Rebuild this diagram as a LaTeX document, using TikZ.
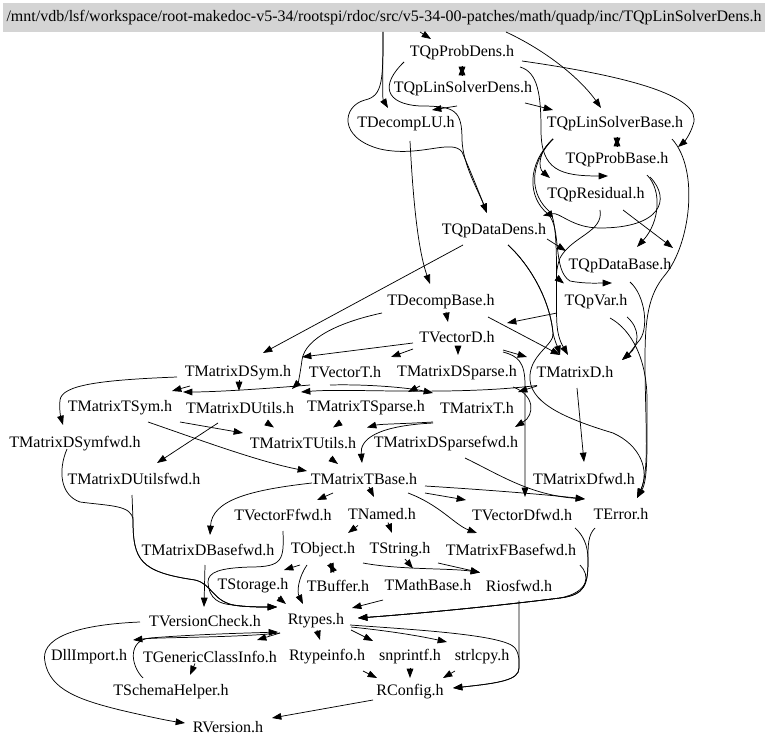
\documentclass[tikz,border=0pt]{standalone}
\usepackage{fontspec}
\setmainfont{Liberation Serif}
\usetikzlibrary{arrows.meta,calc}

\begin{document}
\begin{tikzpicture}[x=0.75pt,y=-0.75pt,
    file/.style={inner sep=0pt,minimum height=25.5pt,font=\fontsize{12}{14}\selectfont},
    hdr/.style={file,fill=black!17,minimum width=571.5pt,minimum height=21.75pt},
    dep/.style={-{Triangle[length=7pt,width=5pt]},line width=0.55pt}]
    \useasboundingbox (0,0) rectangle (768,745);

    % Kopfzeile
    \node[hdr] (title) at (384,17.5) {/mnt/vdb/lsf/workspace/root-makedoc-v5-34/rootspi/rdoc/src/v5-34-00-patches/math/quadp/inc/TQpLinSolverDens.h};

    % Dateien (Zeile fuer Zeile)
    \node[file] (qpprobdens) at (462,53) {TQpProbDens.h};
    \node[file] (qplinsolverdens) at (463,88.5) {TQpLinSolverDens.h};
    \node[file] (decomplu) at (406,124) {TDecompLU.h};
    \node[file] (qplinsolverbase) at (615,124) {TQpLinSolverBase.h};
    \node[file] (qpprobbase) at (617,159.5) {TQpProbBase.h};
    \node[file] (qpresidual) at (596,195) {TQpResidual.h};
    \node[file] (qpdatadens) at (494,230.5) {TQpDataDens.h};
    \node[file] (qpdatabase) at (620,266) {TQpDataBase.h};
    \node[file] (decompbase) at (441,301.5) {TDecompBase.h};
    \node[file] (qpvar) at (596,301.5) {TQpVar.h};
    \node[file] (vectord) at (457,337) {TVectorD.h};
    \node[file] (matrixdsym) at (238,372.5) {TMatrixDSym.h};
    \node[file] (vectort) at (345,372.5) {TVectorT.h};
    \node[file] (matrixdsparse) at (457,372.5) {TMatrixDSparse.h};
    \node[file] (matrixd) at (575,372.5) {TMatrixD.h};
    \node[file] (matrixtsym) at (120,408) {TMatrixTSym.h};
    \node[file] (matrixdutils) at (240,408) {TMatrixDUtils.h};
    \node[file] (matrixtsparse) at (366,408) {TMatrixTSparse.h};
    \node[file] (matrixt) at (477,408) {TMatrixT.h};
    \node[file] (matrixdsymfwd) at (75,443.5) {TMatrixDSymfwd.h};
    \node[file] (matrixtutils) at (303,443.5) {TMatrixTUtils.h};
    \node[file] (matrixdsparsefwd) at (446,443.5) {TMatrixDSparsefwd.h};
    \node[file] (matrixdutilsfwd) at (134,479) {TMatrixDUtilsfwd.h};
    \node[file] (matrixtbase) at (364,479) {TMatrixTBase.h};
    \node[file] (matrixdfwd) at (584,479) {TMatrixDfwd.h};
    \node[file] (vectorffwd) at (283,514.5) {TVectorFfwd.h};
    \node[file] (named) at (382,514.5) {TNamed.h};
    \node[file] (vectordfwd) at (522,514.5) {TVectorDfwd.h};
    \node[file] (error) at (621,514.5) {TError.h};
    \node[file] (matrixdbasefwd) at (208,550) {TMatrixDBasefwd.h};
    \node[file] (object) at (323,550) {TObject.h};
    \node[file] (string) at (400,550) {TString.h};
    \node[file] (matrixfbasefwd) at (511,550) {TMatrixFBasefwd.h};
    \node[file] (storage) at (253,585.5) {TStorage.h};
    \node[file] (buffer) at (338,585.5) {TBuffer.h};
    \node[file] (mathbase) at (428,585.5) {TMathBase.h};
    \node[file] (riosfwd) at (519,585.5) {Riosfwd.h};
    \node[file] (versioncheck) at (205,621) {TVersionCheck.h};
    \node[file] (rtypes) at (316,621) {Rtypes.h};
    \node[file] (dllimport) at (89,656.5) {DllImport.h};
    \node[file] (genericclassinfo) at (210,656.5) {TGenericClassInfo.h};
    \node[file] (rtypeinfo) at (327,656.5) {Rtypeinfo.h};
    \node[file] (snprintf) at (410,656.5) {snprintf.h};
    \node[file] (strlcpy) at (482,656.5) {strlcpy.h};
    \node[file] (schemahelper) at (171,692) {TSchemaHelper.h};
    \node[file] (rconfig) at (410,692) {RConfig.h};
    \node[file] (rversion) at (228,727.5) {RVersion.h};

    % Kanten oben (TQp...)
    \draw[dep] ($(title)+(36,14.5)$) -- ($(qpprobdens)+(-31,-14)$);
    \draw[dep] ($(title)+(-1,14.5)$) .. controls (383,70) and (382,98) .. ($(decomplu)+(-18,-16)$);
    \draw[dep] ($(title)+(122,14.5)$) .. controls (555,55) and (585,85) .. ($(qplinsolverbase)+(-14,-16)$);
    \draw[dep] ($(title)+(-1,14.5)$) .. controls (383,80) and (383,96) .. (365,100)
        .. controls (342,106) and (338,138) .. (380,149) .. controls (420,158) and (452,138) .. (462,152)
        .. controls (470,170) and (480,195) .. ($(qpdatadens)+(-7,-17.5)$);
    \draw[dep] ($(qpprobdens)+(0,13)$) -- ($(qplinsolverdens)+(-1,-12.5)$);
    \draw[dep] ($(qplinsolverdens)+(-1,-12.5)$) -- ($(qpprobdens)+(0,13)$);
    \draw[dep] ($(qplinsolverdens)+(-6,17.5)$) -- ($(decomplu)+(26,-14)$);
    \draw[dep] ($(qplinsolverdens)+(62,14.5)$) -- ($(qplinsolverbase)+(-62,-14)$);
    \draw[dep] ($(qpprobdens)+(-58,9)$) .. controls (380,85) and (385,104) .. (420,106)
        .. controls (455,106) and (462,110) .. (462,140) .. controls (463,165) and (478,190) .. ($(qpdatadens)+(-7,-17.5)$);
    \draw[dep] ($(qpprobdens)+(60,8)$) .. controls (620,75) and (705,95) .. (693,125)
        .. controls (690,135) and (684,142) .. ($(qpprobbase)+(61,-12.5)$);
    \draw[dep] ($(qpprobdens)+(58,14)$) .. controls (538,72) and (541,95) .. (541,130)
        .. controls (541,170) and (560,176) .. ($(qpresidual)+(12,-19)$);
    \draw[dep] ($(qplinsolverbase)+(2,13)$) -- ($(qpprobbase)+(0,-12.5)$);
    \draw[dep] ($(qpprobbase)+(0,-12.5)$) -- ($(qplinsolverbase)+(2,13)$);
    \draw[dep] ($(qplinsolverbase)+(-62,15)$) .. controls (538,152) and (538,168) .. ($(qpresidual)+(-46,-17)$);
    \draw[dep] ($(qplinsolverbase)+(-62,15)$) .. controls (528,165) and (530,195) .. (550,212)
        .. controls (560,225) and (555,300) .. (557,325) .. controls (558,340) and (564,348) .. ($(matrixd)+(-7,-17.5)$);
    \draw[dep] ($(qplinsolverbase)+(-62,15)$) .. controls (526,165) and (528,198) .. (548,214)
        .. controls (562,228) and (552,270) .. (570,281) .. controls (585,284) and (600,283) .. ($(qpvar)+(16,-18.5)$);
    \draw[dep] ($(qplinsolverbase)+(57,15)$) .. controls (700,170) and (690,245) .. (665,275)
        .. controls (648,295) and (645,320) .. (645,360) .. controls (645,420) and (650,470) .. ($(error)+(16,-16.5)$);
    \draw[dep] ($(qpprobbase)+(30,15.5)$) .. controls (662,190) and (660,222) .. ($(qpdatabase)+(17,-19)$);
    \draw[dep] ($(qpprobbase)+(33,17.5)$) .. controls (672,200) and (660,228) .. (600,228)
        .. controls (572,228) and (560,212) .. ($(qpdatadens)+(49,-15)$);
    \draw[dep] ($(qpresidual)+(27,15)$) -- ($(qpdatabase)+(53,-18)$);
    \draw[dep] ($(qpresidual)+(4,15)$) .. controls (604,232) and (572,236) .. (560,258)
        .. controls (555,272) and (557,278) .. ($(qpvar)+(-32,-18)$);
    \draw[dep] ($(qpdatadens)+(53,8.5)$) -- ($(qpdatabase)+(-54,-15)$);
    \draw[dep] ($(qpdatadens)+(14,14.5)$) .. controls (530,265) and (550,300) .. (553,333)
        .. controls (555,342) and (558,348) .. ($(matrixd)+(-15,-17.5)$);
    \draw[dep] ($(qpdatadens)+(14,14.5)$) .. controls (530,265) and (550,300) .. (553,333)
        .. controls (555,345) and (528,355) .. (530,380) .. controls (532,405) and (570,420) .. (613,433)
        .. controls (640,445) and (650,470) .. ($(error)+(16,-16.5)$);
    \draw[dep] ($(qpdatadens)+(-31,14.5)$) -- ($(matrixdsym)+(25,-19.5)$);
    \draw[dep] ($(qpdatabase)+(10,16)$) .. controls (645,295) and (650,330) .. (638,342)
        .. controls (632,350) and (628,355) .. ($(matrixd)+(47,-12.5)$);
    \draw[dep] ($(qpvar)+(31,15.5)$) .. controls (640,328) and (640,345) .. ($(matrixd)+(47,-12.5)$);
    \draw[dep] ($(qpvar)+(-39,11.5)$) -- ($(vectord)+(50,-14)$);
    \draw[dep] ($(qpvar)+(14,16.5)$) .. controls (632,330) and (647,360) .. (647,400)
        .. controls (647,450) and (648,480) .. ($(error)+(16,-16.5)$);

    % Kanten Mitte (TDecomp, TVectorD, TMatrixD)
    \draw[dep] ($(decomplu)+(4,17)$) .. controls (413,200) and (418,250) .. ($(decompbase)+(-11,-17.5)$);
    \draw[dep] ($(decompbase)+(47,15.5)$) -- ($(matrixd)+(-15,-17.5)$);
    \draw[dep] ($(decompbase)+(5,10.5)$) -- ($(vectord)+(-9,-15)$);
    \draw[dep] ($(decompbase)+(-59,11.5)$) .. controls (340,322) and (305,338) .. (302,360)
        .. controls (300,375) and (298,383) .. ($(matrixdutils)+(52,-19)$);
    \draw[dep] ($(vectord)+(-44,6)$) -- ($(matrixdsym)+(64,-15.5)$);
    \draw[dep] ($(vectord)+(-44,12)$) -- ($(vectort)+(46,-15.5)$);
    \draw[dep] ($(vectord)+(1,10)$) -- ($(matrixdsparse)+(1,-17.5)$);
    \draw[dep] ($(vectord)+(46,13)$) -- ($(matrixd)+(-48,-15.5)$);
    \draw[dep] ($(vectord)+(46,15)$) .. controls (518,356) and (525,362) .. (525,385) -- ($(vectordfwd)+(3,-17.5)$);
    \draw[dep] ($(matrixd)+(2,15.5)$) -- ($(matrixdfwd)+(0,-17)$);
    \draw[dep] ($(matrixd)+(-38,13.5)$) -- ($(matrixt)+(41,-16)$);
    \draw[dep] ($(matrixd)+(-38,13)$) .. controls (450,396) and (350,388) .. ($(matrixdutils)+(61,-16)$);
    \draw[dep] ($(matrixdsparse)+(-37,13.5)$) -- ($(matrixtsparse)+(42,-16)$);
    \draw[dep] ($(matrixdsparse)+(56,14.5)$) .. controls (535,395) and (535,415) .. ($(matrixdsparsefwd)+(69,-16.5)$);
    \draw[dep] ($(vectort)+(-15,12.5)$) .. controls (370,384) and (410,388) .. ($(matrixt)+(-44,-15)$);
    \draw[dep] ($(vectort)+(-35,12.5)$) .. controls (250,390) and (210,392) .. ($(matrixtsym)+(63,-16)$);
    \draw[dep] ($(matrixdsym)+(-48,13.5)$) -- ($(matrixtsym)+(52,-17)$);
    \draw[dep] ($(matrixdsym)+(1,8)$) -- ($(matrixdutils)+(-1,-17)$);
    \draw[dep] ($(matrixdsym)+(-61,4.5)$) .. controls (100,380) and (62,385) .. (60,400)
        .. controls (59,410) and (61,418) .. ($(matrixdsymfwd)+(-12,-18.5)$);

    % Kanten TMatrixT...
    \draw[dep] ($(matrixtsym)+(60,14)$) -- ($(matrixtutils)+(-60,-10.5)$);
    \draw[dep] ($(matrixtsym)+(28,14)$) .. controls (200,440) and (260,462) .. ($(matrixtbase)+(-57,-8)$);
    \draw[dep] ($(matrixdutils)+(27,15)$) -- ($(matrixtutils)+(-29,-16)$);
    \draw[dep] ($(matrixdutils)+(-22,15)$) -- ($(matrixdutilsfwd)+(23,-16)$);
    \draw[dep] ($(matrixtsparse)+(-26,15)$) -- ($(matrixtutils)+(30,-16)$);
    \draw[dep] ($(matrixt)+(-44,14)$) .. controls (400,424) and (380,424) .. ($(matrixtutils)+(64,-16)$);
    \draw[dep] ($(matrixt)+(-44,15)$) .. controls (375,426) and (360,440) .. ($(matrixtbase)+(-2,-16)$);
    \draw[dep] ($(matrixtutils)+(27,14.5)$) -- ($(matrixtbase)+(-26,-15)$);
    \draw[dep] ($(matrixdsparsefwd)+(19,14.5)$) .. controls (500,475) and (530,495) .. ($(error)+(-36,-15.5)$);
    \draw[dep] ($(matrixtbase)+(-31,14)$) -- ($(vectorffwd)+(34,-14.5)$);
    \draw[dep] ($(matrixtbase)+(5,8)$) -- ($(named)+(-8,-17.5)$);
    \draw[dep] ($(matrixtbase)+(61,14)$) -- ($(vectordfwd)+(-56,-14.5)$);
    \draw[dep] ($(matrixtbase)+(44,14)$) .. controls (440,505) and (455,525) .. ($(matrixfbasefwd)+(-34,-17)$);
    \draw[dep] ($(matrixtbase)+(61,7)$) .. controls (490,490) and (550,495) .. ($(error)+(-36,-15.5)$);
    \draw[dep] ($(matrixtbase)+(-52,4)$) .. controls (250,490) and (212,500) .. ($(matrixdbasefwd)+(2,-15)$);

    % Kanten links nach Rtypes.h
    \draw[dep] ($(matrixdsymfwd)+(-8,5.5)$) .. controls (58,470) and (60,495) .. (80,502)
        .. controls (110,506) and (132,505) .. (133,520) .. controls (133,560) and (140,572) .. (195,580)
        .. controls (212,584) and (212,600) .. (233,605) .. controls (245,607) and (260,607) .. ($(rtypes)+(-39,-14)$);
    \draw[dep] ($(matrixdutilsfwd)+(-2,16)$) -- (133,520) .. controls (133,560) and (140,572) .. (195,580)
        .. controls (212,584) and (212,600) .. (233,605) .. controls (245,607) and (260,607) .. ($(rtypes)+(-39,-14)$);
    \draw[dep] ($(vectorffwd)+(0,16.5)$) .. controls (284,560) and (283,567) .. (250,567)
        .. controls (220,568) and (208,572) .. (208,582) .. controls (209,600) and (220,604) .. (233,605)
        .. controls (245,607) and (260,607) .. ($(rtypes)+(-39,-14)$);
    \draw[dep] ($(matrixdbasefwd)+(-3,15)$) -- ($(versioncheck)+(-1,-14)$);

    % Kanten unten (TObject, TNamed, ...)
    \draw[dep] ($(named)+(-24,11)$) -- ($(object)+(25,-17)$);
    \draw[dep] ($(named)+(6,8)$) -- ($(string)+(-8,-17)$);
    \draw[dep] ($(object)+(7,13)$) -- ($(buffer)+(-4,-13)$);
    \draw[dep] ($(buffer)+(-4,-13)$) -- ($(object)+(7,13)$);
    \draw[dep] ($(object)+(-23,15)$) -- ($(storage)+(31,-15.5)$);
    \draw[dep] ($(object)+(-16,15)$) .. controls (298,578) and (297,592) .. ($(rtypes)+(-13,-17)$);
    \draw[dep] ($(object)+(40,13)$) .. controls (400,570) and (450,568) .. ($(riosfwd)+(-39,-13)$);
    \draw[dep] ($(string)+(5,9)$) -- ($(mathbase)+(-15,-17)$);
    \draw[dep] ($(string)+(38,13)$) -- ($(riosfwd)+(-39,-13)$);
    \draw[dep] ($(storage)+(25,12)$) -- ($(rtypes)+(-30,-17)$);
    \draw[dep] ($(mathbase)+(-45,14.5)$) -- ($(rtypes)+(36,-13)$);
    \draw[dep] ($(vectordfwd)+(53,13.5)$) .. controls (583,535) and (588,545) .. (588,560)
        .. controls (588,585) and (585,595) .. (560,598) .. controls (480,608) and (400,615) .. ($(rtypes)+(42,-3)$);
    \draw[dep] ($(error)+(-26,13.5)$) .. controls (588,535) and (588,545) .. (588,560)
        .. controls (588,585) and (585,595) .. (560,598) .. controls (480,608) and (400,615) .. ($(rtypes)+(42,-3)$);
    \draw[dep] ($(matrixfbasefwd)+(69,15)$) .. controls (590,575) and (590,592) .. (560,598)
        .. controls (480,608) and (400,615) .. ($(rtypes)+(42,-3)$);

    % Kanten Rtypes.h / RConfig.h
    \draw[dep] ($(riosfwd)+(0,15)$) -- (519,668) .. controls (519,680) and (500,683) .. ($(rconfig)+(43,-4)$);
    \draw[dep] ($(rtypes)+(34,4)$) .. controls (420,630) and (505,635) .. (515,648)
        .. controls (520,655) and (519,662) .. (519,668) .. controls (519,680) and (500,683) .. ($(rconfig)+(43,-4)$);
    \draw[dep] ($(rtypes)+(1,9)$) -- ($(rtypeinfo)+(-7,-16.5)$);
    \draw[dep] ($(rtypes)+(35,9)$) -- ($(snprintf)+(-37,-15.5)$);
    \draw[dep] ($(rtypes)+(35,6)$) .. controls (390,631) and (420,636) .. ($(strlcpy)+(-35,-14.5)$);
    \draw[dep] ($(rtypes)+(-36,12)$) .. controls (230,638) and (160,637) .. ($(dllimport)+(44,-16.5)$);
    \draw[dep] ($(rtypes)+(-36,12)$) -- ($(genericclassinfo)+(47,-16.5)$);
    \draw[dep] ($(schemahelper)+(-28,-14)$) .. controls (130,665) and (128,640) .. (150,638)
        .. controls (200,634) and (250,633) .. ($(rtypes)+(-38,11)$);
    \draw[dep] ($(genericclassinfo)+(-15,7)$) -- ($(schemahelper)+(19,-17)$);
    \draw[dep] ($(rtypeinfo)+(36,14.5)$) -- ($(rconfig)+(-33,-14)$);
    \draw[dep] ($(snprintf)+(0,11)$) -- ($(rconfig)+(0,-14)$);
    \draw[dep] ($(strlcpy)+(-27,14.5)$) -- ($(rconfig)+(33,-14)$);
    \draw[dep] ($(rconfig)+(-37,8)$) -- ($(rversion)+(44,-9.5)$);
    \draw[dep] ($(versioncheck)+(-65,1)$) .. controls (70,625) and (40,640) .. (45,662)
        .. controls (50,690) and (80,700) .. (120,710) .. controls (150,717) and (170,721) .. ($(rversion)+(-43,-4.5)$);
\end{tikzpicture}
\end{document}
